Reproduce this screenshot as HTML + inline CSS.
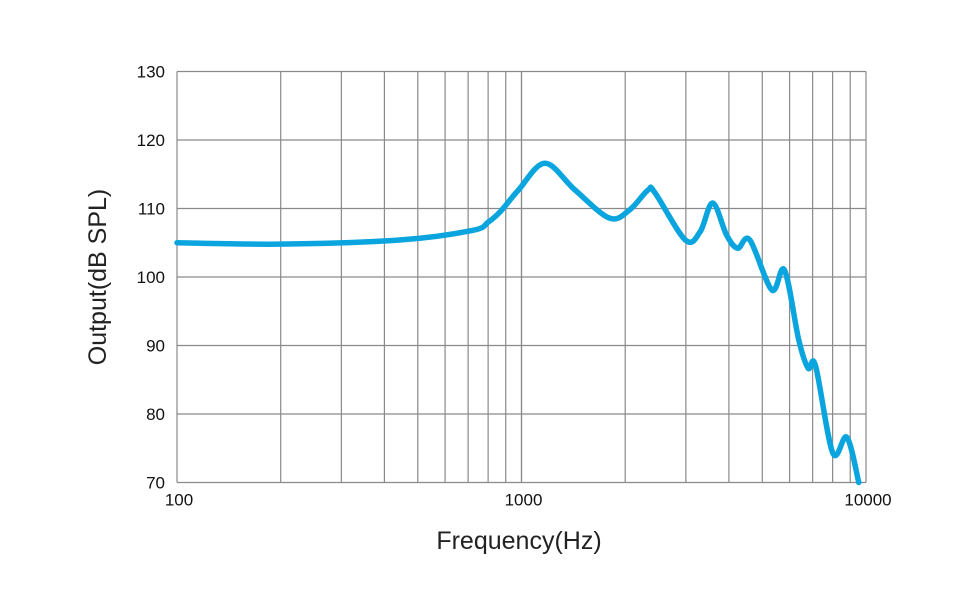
<!DOCTYPE html>
<html><head><meta charset="utf-8"><style>
html,body{margin:0;padding:0;background:#fff;}
svg{display:block;font-family:"Liberation Sans","DejaVu Sans",sans-serif;}
</style></head><body>
<svg id="chart" width="976" height="613" viewBox="0 0 976 613" xmlns="http://www.w3.org/2000/svg">
<g id="grid"></g>
<g id="ticks"></g>
<path id="curve" fill="none" stroke="#0aa5de" stroke-width="5.5" stroke-linecap="round" stroke-linejoin="round"/>
<text x="519" y="549" text-anchor="middle" font-size="25" fill="#222">Frequency(Hz)</text>
<text transform="translate(106,277) rotate(-90)" text-anchor="middle" font-size="25" fill="#222">Output(dB SPL)</text>
</svg>
<script>
const freqs=[100,199,443,720,800,870,980,1170,1430,1800,2060,2330,2440,2990,3300,3590,3940,4240,4600,5330,5800,6380,6790,7140,8010,8800,9530];
const spl=[105.0,104.8,105.4,106.8,108.0,109.6,112.7,116.6,112.7,108.6,109.8,112.7,112.3,105.4,106.6,110.8,106.1,104.2,105.4,98.1,101,90.8,86.7,87,74.3,76.6,70];
const yTicks=[70,80,90,100,110,120,130];
const xLabels=[100,1000,10000];
const L=177,R=866,T=71.5,B=482.5;
function xs(f){return L+(Math.log10(f)-2)/2*(R-L);}
function ys(v){return B-(v-70)/60*(B-T);}
const NS="http://www.w3.org/2000/svg";
const grid=document.getElementById('grid'),ticks=document.getElementById('ticks');
function line(x1,y1,x2,y2,name){const l=document.createElementNS(NS,'line');
l.setAttribute('x1',x1);l.setAttribute('y1',y1);l.setAttribute('x2',x2);l.setAttribute('y2',y2);
l.setAttribute('stroke','#8a8a8a');l.setAttribute('stroke-width','1.2');


grid.appendChild(l);}
yTicks.forEach(v=>{line(L,ys(v),R,ys(v),'h-gridline');
const t=document.createElementNS(NS,'text');t.setAttribute('x',L-12);t.setAttribute('y',ys(v)+6);
t.setAttribute('text-anchor','end');t.setAttribute('font-size','17');t.setAttribute('fill','#111');t.textContent=v;


ticks.appendChild(t);});
for(let d=100;d<10000;d*=10){for(let m=1;m<=10;m++){line(xs(d*m),T,xs(d*m),B,'v-gridline');}}
xLabels.forEach(f=>{const t=document.createElementNS(NS,'text');t.setAttribute('x',xs(f)+2);t.setAttribute('y',B+23);
t.setAttribute('text-anchor','middle');t.setAttribute('font-size','17');t.setAttribute('fill','#111');t.textContent=f;


ticks.appendChild(t);});
const pts=freqs.map((f,i)=>[xs(f),ys(spl[i])]);
let d='M'+pts[0][0]+','+pts[0][1];
for(let i=0;i<pts.length-1;i++){const p0=pts[i-1]||pts[i],p1=pts[i],p2=pts[i+1],p3=pts[i+2]||pts[i+1];
const c1=[p1[0]+(p2[0]-p0[0])/6,p1[1]+(p2[1]-p0[1])/6],c2=[p2[0]-(p3[0]-p1[0])/6,p2[1]-(p3[1]-p1[1])/6];
d+=' C'+c1+' '+c2+' '+p2;}
document.getElementById('curve').setAttribute('d',d);
</script>
</body></html>
